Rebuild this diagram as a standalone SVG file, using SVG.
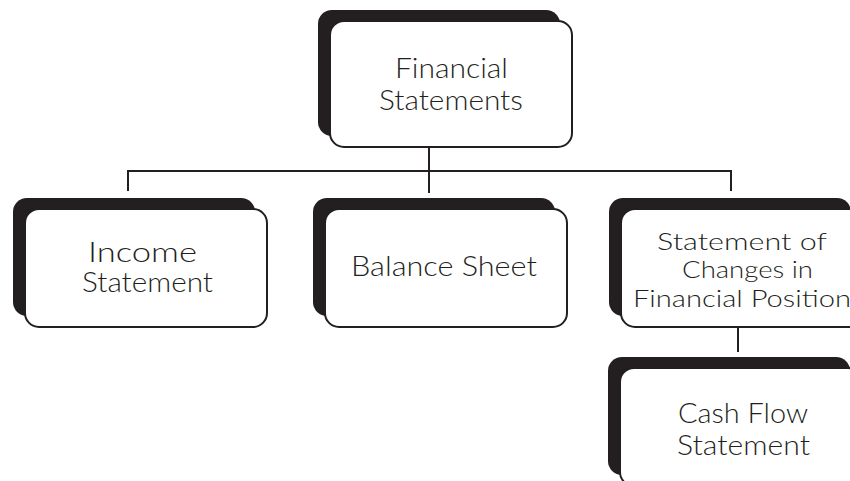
<svg xmlns="http://www.w3.org/2000/svg" width="850" height="481" viewBox="0 0 850 481">
<style>
.sh{fill:#231f20;}
.bx{fill:#ffffff;stroke:#231f20;stroke-width:2;}
.ln{stroke:#231f20;stroke-width:2;fill:none;}
text{font-family:"Lato","Liberation Sans",sans-serif;font-weight:300;font-size:27px;fill:#231f20;text-anchor:middle;}
.tight{font-size:24px;}
</style>
<rect width="850" height="481" fill="#ffffff"/>
<g id="connectors">
<path class="ln" d="M429,147 V193 M128,171 H731 M128,170 V191 M731,170 V191 M738,327 V352"/>
</g>
<g id="node-financial-statements">
<rect class="sh" x="318" y="10" width="242" height="126" rx="14"/>
<rect class="bx" x="330" y="21" width="242" height="126" rx="14"/>
<text x="451.5" y="78" textLength="113" lengthAdjust="spacingAndGlyphs">Financial</text>
<text x="451" y="110" textLength="144" lengthAdjust="spacingAndGlyphs">Statements</text>
</g>
<g id="node-income-statement">
<rect class="sh" x="13" y="198" width="242" height="118" rx="14"/>
<rect class="bx" x="25" y="209" width="242" height="118" rx="14"/>
<text x="142.5" y="262" textLength="109" lengthAdjust="spacingAndGlyphs">Income</text>
<text x="147.5" y="292" textLength="131" lengthAdjust="spacingAndGlyphs">Statement</text>
</g>
<g id="node-balance-sheet">
<rect class="sh" x="313" y="198" width="242" height="118" rx="14"/>
<rect class="bx" x="325" y="209" width="242" height="118" rx="14"/>
<text x="444" y="276" textLength="186" lengthAdjust="spacingAndGlyphs">Balance Sheet</text>
</g>
<g id="node-changes">
<rect class="sh" x="609" y="198" width="242" height="118" rx="14"/>
<rect class="bx" x="621" y="209" width="242" height="118" rx="14"/>
<text class="tight" x="742" y="250" textLength="170" lengthAdjust="spacingAndGlyphs">Statement of</text>
<text class="tight" x="747.5" y="278" textLength="131" lengthAdjust="spacingAndGlyphs">Changes in</text>
<text class="tight" x="742" y="307" textLength="218" lengthAdjust="spacingAndGlyphs">Financial Position</text>
</g>
<g id="node-cash-flow">
<rect class="sh" x="608" y="357" width="242" height="118" rx="14"/>
<rect class="bx" x="620" y="368" width="242" height="118" rx="14"/>
<text x="743" y="423" textLength="130" lengthAdjust="spacingAndGlyphs">Cash Flow</text>
<text x="743.5" y="455" textLength="133" lengthAdjust="spacingAndGlyphs">Statement</text>
</g>
</svg>
